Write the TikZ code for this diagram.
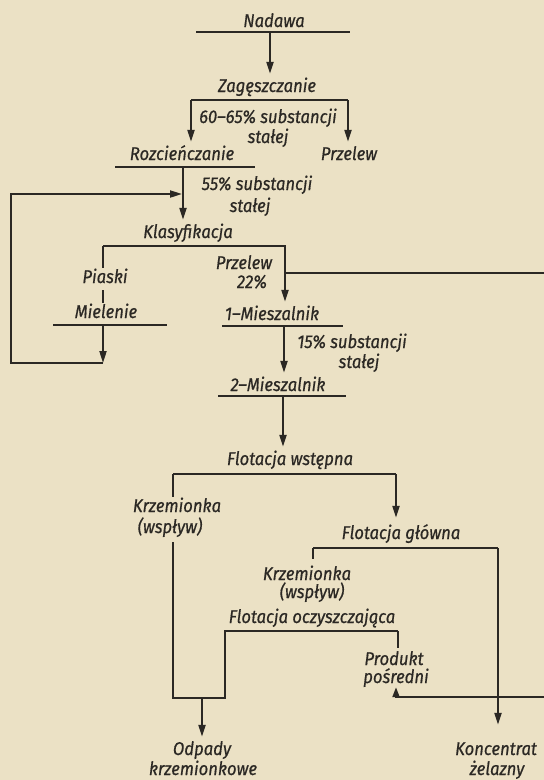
\documentclass[tikz,border=0pt]{standalone}
\usepackage{fontspec}
\setmainfont{Fira Sans}[FakeStretch=0.9,FakeBold=0.6]
\usetikzlibrary{arrows.meta}
\definecolor{paper}{HTML}{EBE1C5}
\definecolor{ink}{HTML}{2B2824}
\begin{document}
\begin{tikzpicture}[x=1pt,y=-1pt,
  lbl/.style={font=\itshape\fontsize{18.5}{20}\selectfont, text=ink, inner sep=0pt, anchor=base, text height=12pt, text depth=4pt},
  barline/.style={draw=ink, line width=2.8pt},
  wire/.style={draw=ink, line width=2pt},
  flow/.style={wire, -{Triangle[length=12pt,width=7pt]}, shorten >=6pt},
  ]
\fill[paper] (0,0) rectangle (544,780);
\useasboundingbox (0,0) rectangle (544,780);
\clip (0,0) rectangle (544,780);

% labels
\node[lbl] (nad) at (274,27) {Nadawa};
\node[lbl] (zag) at (267,92) {Zagęszczanie};
\node[lbl] (s1a) at (268,123) {60–65\% substancji};
\node[lbl] (s1b) at (268,143) {stałej};
\node[lbl] (roz) at (182,160) {Rozcieńczanie};
\node[lbl] (prz1) at (349,160) {Przelew};
\node[lbl] (s2a) at (257,190) {55\% substancji};
\node[lbl] (s2b) at (250,212) {stałej};
\node[lbl] (kla) at (188,238) {Klasyfikacja};
\node[lbl] (pia) at (105,283) {Piaski};
\node[lbl] (mie) at (106,318) {Mielenie};
\node[lbl] (prz2) at (244,269) {Przelew};
\node[lbl] (p22) at (252,288) {22\%};
\node[lbl] (m1) at (272,320) {1–Mieszalnik};
\node[lbl] (s3a) at (352,348) {15\% substancji};
\node[lbl] (s3b) at (359,368) {stałej};
\node[lbl] (m2) at (278,391) {2–Mieszalnik};
\node[lbl] (fw) at (290,465) {Flotacja wstępna};
\node[lbl] (k1a) at (177,512) {Krzemionka};
\node[lbl] (k1b) at (170,533) {(wspływ)};
\node[lbl] (fg) at (401,539) {Flotacja główna};
\node[lbl] (k2a) at (307,580) {Krzemionka};
\node[lbl] (k2b) at (312,598) {(wspływ)};
\node[lbl] (fo) at (312,623) {Flotacja oczyszczająca};
\node[lbl] (pr1) at (394,665) {Produkt};
\node[lbl] (pr2) at (396,683) {pośredni};
\node[lbl] (od1) at (202,755) {Odpady};
\node[lbl] (od2) at (203,775) {krzemionkowe};
\node[lbl] (ko1) at (496,755) {Koncentrat};
\node[lbl] (ko2) at (497,775) {żelazny};

% bars
\draw[barline] (196,32) -- (350,32);
\draw[barline] (191,100) -- (348,100);
\draw[barline] (115,167) -- (255,167);
\draw[barline] (103,246) -- (286,246);
\draw[barline] (53,325) -- (167,325);
\draw[barline] (222,326) -- (343,326);
\draw[barline] (218,396) -- (346,396);
\draw[barline] (173,474) -- (396,474);
\draw[barline] (313,548) -- (498,548);
\draw[barline] (224,631) -- (398,631);

% connection points
\coordinate (a0) at (270,32);
\coordinate (zL) at (191,100);
\coordinate (zR) at (348,100);
\coordinate (rz) at (183,167);
\coordinate (kL) at (103,246);
\coordinate (kR) at (285,246);
\coordinate (ms) at (103,325);
\coordinate (loopc) at (103,363);
\coordinate (loopl) at (11,194);
\coordinate (join) at (183,194);
\coordinate (j22) at (285,273);
\coordinate (far) at (548,697);
\coordinate (m1s) at (284,326);
\coordinate (m2s) at (283,396);
\coordinate (fwL) at (173,474);
\coordinate (fwR) at (396,474);
\coordinate (k1s) at (173,537);
\coordinate (bjR) at (225,698);
\coordinate (foL) at (225,631);
\coordinate (foR) at (398,631);
\coordinate (od) at (202,698);
\coordinate (fgL) at (313,548);
\coordinate (fgR) at (498,548);

% connectors
\draw[flow] (a0) -- (a0 |- zag.north);
\draw[flow] (zL) -- (zL |- roz.north);
\draw[flow] (zR) -- (zR |- prz1.north);
\draw[flow] (rz) -- (rz |- kla.north);
\draw[wire, shorten >=3pt] (kL) -- (kL |- pia.north);
\draw[wire, shorten <=3pt, shorten >=3pt] (kL |- pia.south) -- (kL |- mie.north);
\draw[flow, shorten >=0pt] (ms) -- (loopc);
\draw[wire, -{Triangle[length=12pt,width=7pt]}, shorten >=1pt] (loopc) -| (loopl) -- (join);
\draw[flow] (kR) -- (kR |- m1.north);
\draw[wire, -{Triangle[length=10pt,width=7pt]}] (j22) -| (far) -| (pr2.south);
\draw[flow] (m1s) -- (m1s |- m2.north);
\draw[flow] (m2s) -- (m2s |- fw.north);
\draw[flow, shorten >=9pt] (fwR) -- (fwR |- fg.north);
\draw[wire, shorten >=3pt] (fwL) -- (fwL |- k1a.north);
\draw[wire, shorten <=5pt] (k1s) |- (bjR) -- (foL);
\draw[flow] (od) -- (od |- od1.north);
\draw[wire, shorten >=9pt] (fgL) -- (fgL |- k2a.north);
\draw[flow, shorten >=18pt] (fgR) -- (fgR |- ko1.north);
\draw[wire, shorten >=5pt] (foR) -- (foR |- pr1.north);
\end{tikzpicture}
\end{document}
